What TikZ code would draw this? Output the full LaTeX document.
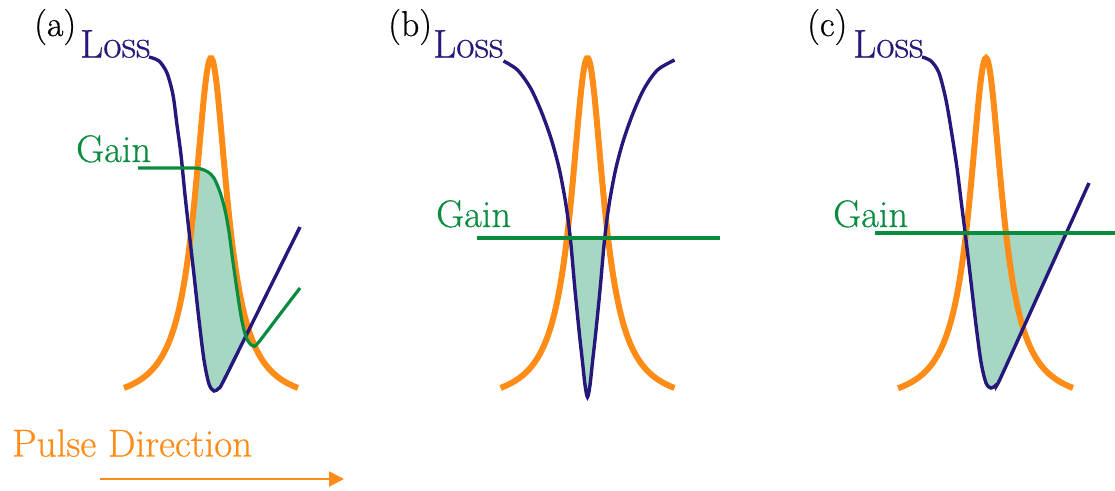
\documentclass[tikz,border=0pt]{standalone}
\usepackage{fontspec}
\newfontfamily\lmthick{Latin Modern Roman}[UprightFeatures={FakeBold=0.6}]
\usetikzlibrary{arrows.meta}
\definecolor{lossc}{RGB}{38,24,122}
\definecolor{gainc}{RGB}{10,140,62}
\definecolor{pulsec}{RGB}{255,140,22}
\definecolor{fillc}{RGB}{165,215,195}
\tikzset{
  lossline/.style={draw=lossc, line width=3.4pt},
  gainline/.style={draw=gainc, line width=3.2pt},
  pulseline/.style={draw=pulsec, line width=6pt},
  netgain/.style={fill=fillc},
  lbl/.style={inner sep=0pt, anchor=base west, font=\lmthick\fontsize{36}{40}\selectfont},
  losslbl/.style={lbl, text=lossc, font=\lmthick\fontsize{40}{44}\selectfont},
  gainlbl/.style={lbl, text=gainc, font=\lmthick\fontsize{38.5}{42}\selectfont},
}
\def\pulsefn{{405-347/(1+(\x/19.8)^2)}}
\def\lossApts{(-62,57) (-52,61) (-44,73) (-38,95) (-34,125) (-30,155) (-26,195) (-21,240) (-17,275) (-12,320) (-7,360) (-2,384) (3,391) (8,388) (13,380) (51,303.5) (89,227)}
\def\gainApts{(-73,168) (-20,168) (-10,169) (-3,172) (3,178) (9,192) (14,210) (18,232) (22,262) (29,310) (33,330) (37,341) (42,346) (47,343) (68,315.5) (89,288)}
\def\lossBpts{(-84,61) (-70,70) (-57,88) (-46,112) (-36,140) (-28,170) (-21.5,205) (-17,240) (-12.5,290) (-8,335) (-5,362) (-2.5,385) (0,397) (2.5,385) (5,362) (8,335) (12.5,290) (17,240) (21.5,205) (28,170) (36,140) (46,112) (57,88) (70,70) (87,60)}
\def\lossCpts{(-64,57) (-55,61) (-47,73) (-40,100) (-34,135) (-29,168) (-25,200) (-20,240) (-15,282) (-10,325) (-5,362) (0,383) (5,388) (10,385) (15,377) (59,280) (103,183)}
\begin{document}
\begin{tikzpicture}[x=1pt,y=-1pt]
\useasboundingbox (0,0) rectangle (1115,490);
% ---------- panel (a)
\begin{scope}[xshift=211pt]
  \begin{scope}
    \clip plot[domain=-87:87,samples=120] (\x,\pulsefn) -- (87,430) -- (-87,430) -- cycle;
    \clip plot[smooth] coordinates {\gainApts} -- (89,430) -- (-73,430) -- cycle;
    \clip plot[smooth] coordinates {\lossApts} -- (89,0) -- (-62,0) -- cycle;
    \fill[netgain] (-100,0) rectangle (100,430);
  \end{scope}
  \draw[pulseline] plot[domain=-87:87,samples=150,smooth] (\x,\pulsefn);
  \draw[lossline] plot[smooth] coordinates {\lossApts};
  \draw[gainline] plot[smooth] coordinates {\gainApts};
\end{scope}
% ---------- panel (b)
\begin{scope}[xshift=587.5pt]
  \begin{scope}
    \clip (-120,238) rectangle (140,430);
    \clip plot[smooth] coordinates {\lossBpts} -- (87,0) -- (-87,0) -- cycle;
    \fill[netgain] (-100,0) rectangle (100,430);
  \end{scope}
  \draw[pulseline] plot[domain=-87:87,samples=150,smooth] (\x,\pulsefn);
  \draw[lossline] plot[smooth] coordinates {\lossBpts};
\end{scope}
\coordinate (gbL) at (477,238);
\coordinate (gbR) at (720,238);
\draw[gainline] (gbL) -- (gbR);
% ---------- panel (c)
\begin{scope}[xshift=986pt]
  \begin{scope}
    \clip (-120,233) rectangle (140,430);
    \clip plot[smooth] coordinates {\lossCpts} -- (103,0) -- (-64,0) -- cycle;
    \fill[netgain] (-100,0) rectangle (130,430);
  \end{scope}
  \draw[pulseline] plot[domain=-88:87,samples=150,smooth] (\x,\pulsefn);
  \draw[lossline] plot[smooth] coordinates {\lossCpts};
\end{scope}
\coordinate (gcL) at (875,233);
\coordinate (gcR) at (1115,233);
\draw[gainline] (gcL) -- (gcR);
% ---------- labels
\node[lbl] (pa) at (34,36) {(a)};
\node[losslbl] (lossa) at (80,57.5) {Loss};
\node[gainlbl] (gaina) at (76,162) {Gain};
\node[lbl] (pb) at (388,36) {(b)};
\node[losslbl] (lossb) at (433,57.5) {Loss};
\node[gainlbl] (gainb) at (436,227) {Gain};
\node[lbl] (pc) at (807,36) {(c)};
\node[losslbl] (lossc) at (853,57.5) {Loss};
\node[gainlbl] (gainc) at (833,227) {Gain};
\node[lbl, text=pulsec, font=\lmthick\fontsize{39}{42}\selectfont] (pulse) at (12,456.5) {Pulse Direction};
\coordinate (arrS) at (100,479);
\coordinate (arrE) at (344,479);
\draw[draw=pulsec, line width=2.2pt, -{Triangle[length=15pt,width=15pt]}] (arrS) -- (arrE);
\end{tikzpicture}
\end{document}
